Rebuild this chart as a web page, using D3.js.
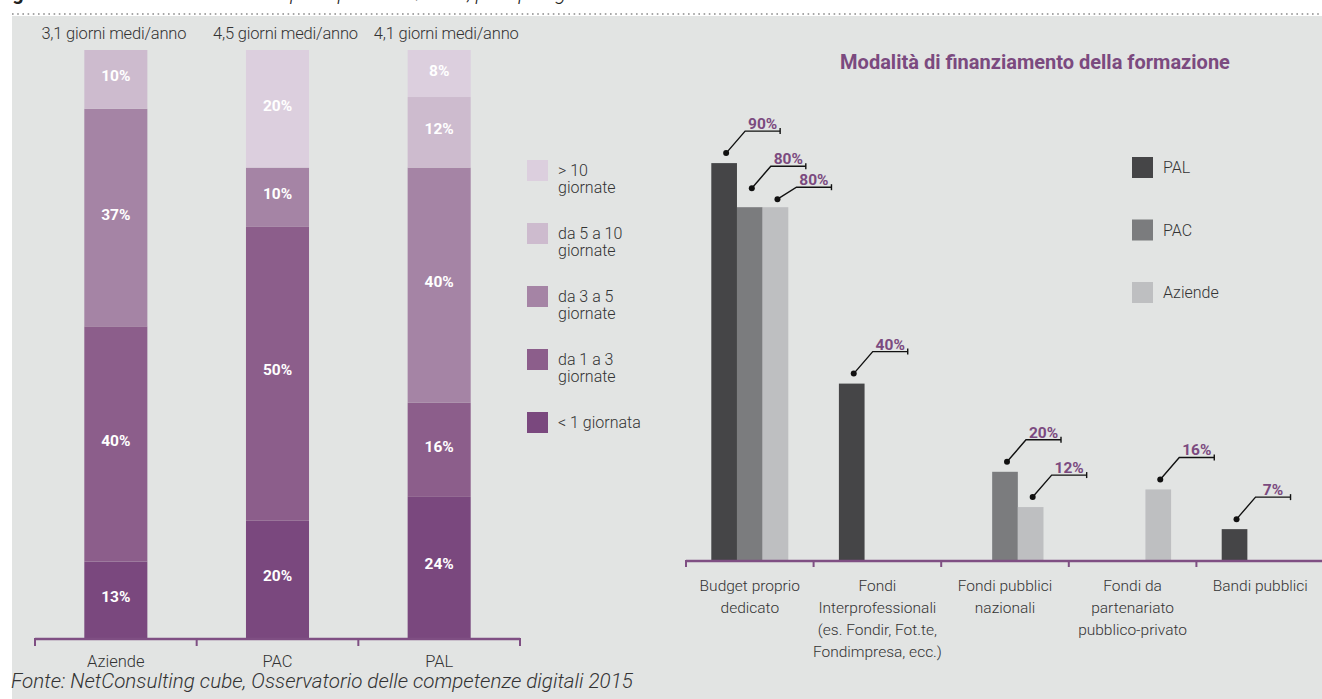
<!DOCTYPE html>
<html>
<head>
<meta charset="utf-8">
<script src="https://cdn.jsdelivr.net/npm/d3@7"></script>
<style>
  html, body { margin: 0; padding: 0; background: #ffffff; }
  svg { display: block; font-family: Roboto, "Noto Sans", sans-serif; }
</style>
</head>
<body>
<svg id="chart" width="1322" height="699"></svg>
<script>
// ---- Left panel: training days per employee, stacked shares ----
const orgTypes = ["Aziende", "PAC", "PAL"];
const avgDaysLabels = ["3,1 giorni medi/anno", "4,5 giorni medi/anno", "4,1 giorni medi/anno"];
const dayBandKeys = ["lt1", "d1to3", "d3to5", "d5to10", "gt10"];
const dayBandLabels = [["< 1 giornata"], ["da 1 a 3", "giornate"], ["da 3 a 5", "giornate"], ["da 5 a 10", "giornate"], ["> 10", "giornate"]];
const shareLt1 = [13, 20, 24];
const share1to3 = [40, 50, 16];
const share3to5 = [37, 10, 40];
const share5to10 = [10, 0, 12];
const shareGt10 = [0, 20, 8];

// ---- Right panel: how training is funded ----
const fundingTypes = ["Budget proprio dedicato", "Fondi Interprofessionali", "Fondi pubblici nazionali", "Fondi da partenariato pubblico-privato", "Bandi pubblici"];
const fundingTickLines = [
  ["Budget proprio", "dedicato"],
  ["Fondi", "Interprofessionali", "(es. Fondir, Fot.te,", "Fondimpresa, ecc.)"],
  ["Fondi pubblici", "nazionali"],
  ["Fondi da", "partenariato", "pubblico-privato"],
  ["Bandi pubblici"]
];
const fundingSeries = ["PAL", "PAC", "Aziende"];
const fundingPAL = [90, 40, 0, 0, 7];
const fundingPAC = [80, 0, 20, 0, 0];
const fundingAziende = [80, 0, 12, 16, 0];

const chartTitle = "Modalità di finanziamento della formazione";
const sourceNote = "Fonte: NetConsulting cube, Osservatorio delle competenze digitali 2015";

// ---- styling ----
const bandColors = { lt1: "#7a487e", d1to3: "#8c5e8b", d3to5: "#a584a5", d5to10: "#cdbbce", gt10: "#dccfde" };
const seriesColors = { PAL: "#454547", PAC: "#7b7c7e", Aziende: "#bebfc1" };
const purple = "#7f4f83";
const textDark = "#333333";

const svg = d3.select("#chart");

// page frame: heading running off the top edge, dotted rule, grey panel
svg.append("text")
  .attr("x", -4).attr("y", 0)
  .attr("font-size", 20).attr("font-weight", 700).attr("fill", "#222")
  .text("Figura 9 ")
  .append("tspan").attr("font-weight", 300).attr("font-style", "italic")
  .text("– Giornate di formazione per dipendente/anno, per tipologia");

svg.append("rect").attr("x", 12).attr("y", 16).attr("width", 1310).attr("height", 683).attr("fill", "#e2e4e3");
svg.append("line").attr("x1", 12).attr("x2", 1322).attr("y1", 14).attr("y2", 14)
  .attr("stroke", "#8a8a8a").attr("stroke-width", 1.6).attr("stroke-dasharray", "1.6,3.6");

// ================= LEFT: stacked columns =================
const stackRows = orgTypes.map((o, i) => ({
  org: o, lt1: shareLt1[i], d1to3: share1to3[i], d3to5: share3to5[i], d5to10: share5to10[i], gt10: shareGt10[i]
}));
const stacked = d3.stack().keys(dayBandKeys)(stackRows);

const xL = d3.scaleBand().domain(orgTypes).range([35, 520]).paddingInner(0.61).paddingOuter(0.305);
const yL = d3.scaleLinear().domain([0, 100]).range([638, 50]);

const gL = svg.append("g");
stacked.forEach(layer => {
  const key = layer.key;
  const shown = layer.filter(d => d[1] - d[0] > 0);
  const seg = gL.append("g");
  seg.selectAll("rect").data(shown).join("rect")
    .attr("x", d => xL(d.data.org))
    .attr("width", xL.bandwidth())
    .attr("y", d => yL(d[1]))
    .attr("height", d => yL(d[0]) - yL(d[1]))
    .attr("fill", bandColors[key]);
  seg.selectAll("text").data(shown).join("text")
    .attr("x", d => xL(d.data.org) + xL.bandwidth() / 2)
    .attr("y", d => (yL(d[0]) + yL(d[1])) / 2 + 2)
    .attr("text-anchor", "middle")
    .attr("font-size", 15.5).attr("font-weight", 700).attr("fill", "#ffffff")
    .text(d => (d[1] - d[0]) + "%");
});

// averages above each column (the later two sit a little right of centre)
const avgShift = [-2, 8, 7];
gL.selectAll("text.avg").data(orgTypes).join("text").attr("class", "avg")
  .attr("x", (d, i) => xL(d) + xL.bandwidth() / 2 + avgShift[i])
  .attr("y", 39)
  .attr("text-anchor", "middle")
  .attr("font-size", 16.5).attr("font-weight", 300).attr("fill", textDark)
  .attr("letter-spacing", -0.2)
  .text((d, i) => avgDaysLabels[i]);

// category axis with boundary ticks
const stepL = xL.step();
const leftEdges = d3.range(orgTypes.length + 1).map(i => 35 + i * stepL);
gL.append("line").attr("x1", 35).attr("x2", 520).attr("y1", 639).attr("y2", 639)
  .attr("stroke", purple).attr("stroke-width", 2.5);
gL.selectAll("line.tick").data(leftEdges).join("line").attr("class", "tick")
  .attr("x1", d => d).attr("x2", d => d).attr("y1", 638).attr("y2", 646)
  .attr("stroke", purple).attr("stroke-width", 2);
gL.selectAll("text.cat").data(orgTypes).join("text").attr("class", "cat")
  .attr("x", d => xL(d) + xL.bandwidth() / 2)
  .attr("y", 667)
  .attr("text-anchor", "middle")
  .attr("font-size", 16.5).attr("font-weight", 300).attr("fill", textDark)
  .text(d => d);

// legend, top band first
const legendL = svg.append("g");
const legendOrder = dayBandKeys.map((k, i) => ({ key: k, lines: dayBandLabels[i] })).reverse();
legendOrder.forEach((item, i) => {
  const y0 = 160 + i * 63;
  legendL.append("rect").attr("x", 527).attr("y", y0).attr("width", 21).attr("height", 21)
    .attr("fill", bandColors[item.key]);
  const t = legendL.append("text")
    .attr("x", 558).attr("y", y0 + 16)
    .attr("font-size", 16).attr("font-weight", 300).attr("fill", textDark);
  item.lines.forEach((ln, j) => {
    t.append("tspan").attr("x", 558).attr("dy", j === 0 ? 0 : 17).text(ln);
  });
});

// source line
svg.append("text")
  .attr("x", 11).attr("y", 688)
  .attr("font-size", 20.6).attr("font-weight", 300).attr("font-style", "italic").attr("fill", textDark)
  .text(sourceNote);

// ================= RIGHT: grouped columns =================
const fundRows = fundingTypes.map((f, i) => ({ type: f, PAL: fundingPAL[i], PAC: fundingPAC[i], Aziende: fundingAziende[i] }));

const xR = d3.scaleBand().domain(fundingTypes).range([686, 1324]);
const xS = d3.scaleBand().domain(fundingSeries).range([0, 77]);
const yR = d3.scaleLinear().domain([0, 100]).range([560, 119]);
const groupOffset = (xR.bandwidth() - 77) / 2;

const gR = svg.append("g");

svg.append("text")
  .attr("x", 1035).attr("y", 69)
  .attr("text-anchor", "middle")
  .attr("font-size", 20).attr("font-weight", 700).attr("fill", "#7b4a7f")
  .text(chartTitle);

const barData = [];
fundRows.forEach(r => fundingSeries.forEach(s => {
  if (r[s] > 0) barData.push({ type: r.type, series: s, value: r[s] });
}));

gR.selectAll("rect.bar").data(barData).join("rect").attr("class", "bar")
  .attr("x", d => xR(d.type) + groupOffset + xS(d.series))
  .attr("width", xS.bandwidth())
  .attr("y", d => yR(d.value))
  .attr("height", d => yR(0) - yR(d.value))
  .attr("fill", d => seriesColors[d.series]);

// leader-line callouts; the three crowded ones in the first group are staggered
const calloutDefault = { gap: 10, rise: 22, run: 19, arm: 35 };
const calloutStagger = {
  "Budget proprio dedicato|PAC": { gap: 19, rise: 22, run: 19, arm: 35 },
  "Budget proprio dedicato|Aziende": { gap: 8, rise: 12, run: 19, arm: 35 }
};
const callouts = gR.selectAll("g.callout").data(barData).join("g").attr("class", "callout");
callouts.each(function (d) {
  const c = calloutStagger[d.type + "|" + d.series] || calloutDefault;
  const cx = xR(d.type) + groupOffset + xS(d.series) + xS.bandwidth() / 2 + 2;
  const top = yR(d.value);
  const dy = top - c.gap;
  const ey = dy - c.rise;
  const ex = cx + c.run;
  const g = d3.select(this);
  g.append("circle").attr("cx", cx).attr("cy", dy).attr("r", 3).attr("fill", "#111");
  g.append("path")
    .attr("d", `M${cx},${dy}L${ex},${ey}H${ex + c.arm}`)
    .attr("fill", "none").attr("stroke", "#111").attr("stroke-width", 1.4);
  g.append("line").attr("x1", ex + c.arm).attr("x2", ex + c.arm).attr("y1", ey - 3).attr("y2", ey + 3)
    .attr("stroke", "#111").attr("stroke-width", 1.4);
  g.append("text")
    .attr("x", ex + c.arm / 2).attr("y", ey - 2)
    .attr("text-anchor", "middle")
    .attr("font-size", 15.5).attr("font-weight", 700).attr("fill", "#7b4a7f")
    .text(d.value + "%");
});

// category axis
const rightEdges = d3.range(fundingTypes.length + 1).map(i => 686 + i * xR.step());
gR.append("line").attr("x1", 686).attr("x2", 1322).attr("y1", 561).attr("y2", 561)
  .attr("stroke", purple).attr("stroke-width", 2.5);
gR.selectAll("line.tick").data(rightEdges).join("line").attr("class", "tick")
  .attr("x1", d => d).attr("x2", d => d).attr("y1", 560).attr("y2", 567)
  .attr("stroke", purple).attr("stroke-width", 2);
gR.selectAll("text.cat").data(fundingTypes).join("text").attr("class", "cat")
  .attr("text-anchor", "middle")
  .attr("font-size", 15.5).attr("font-weight", 300).attr("fill", textDark)
  .each(function (d, i) {
    const t = d3.select(this);
    const cx = xR(d) + xR.bandwidth() / 2;
    fundingTickLines[i].forEach((ln, j) => {
      t.append("tspan").attr("x", cx).attr("y", 591 + j * 22).text(ln);
    });
  });

// series legend
const legendR = svg.append("g");
fundingSeries.forEach((s, i) => {
  const y0 = 157 + i * 62.5;
  legendR.append("rect").attr("x", 1132).attr("y", y0).attr("width", 21).attr("height", 21)
    .attr("fill", seriesColors[s]);
  legendR.append("text").attr("x", 1163).attr("y", y0 + 16)
    .attr("font-size", 16).attr("font-weight", 300).attr("fill", textDark)
    .text(s);
});
</script>
</body>
</html>
